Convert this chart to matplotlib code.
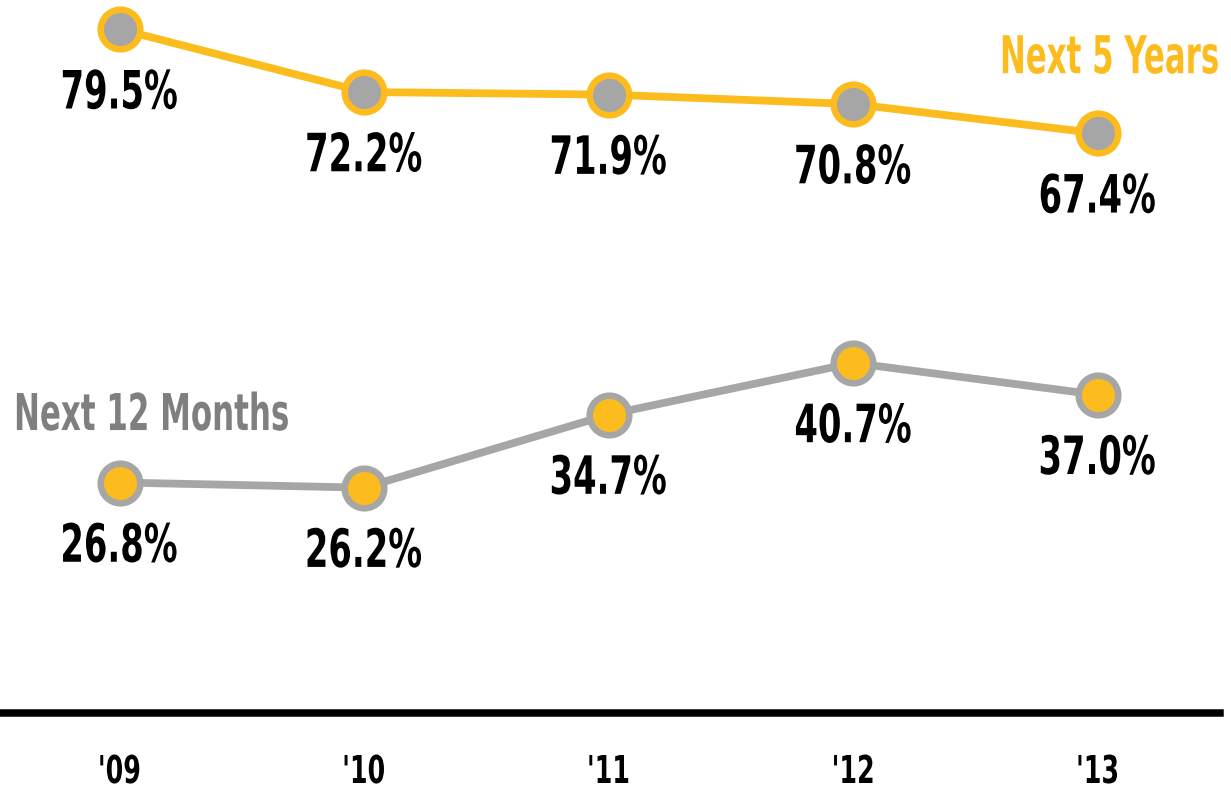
import matplotlib

matplotlib.use("Agg")

import matplotlib.pyplot as plt
from matplotlib.font_manager import FontProperties
from matplotlib.patches import PathPatch
from matplotlib.textpath import TextPath
from matplotlib.transforms import Affine2D, ScaledTranslation

YELLOW = "#FDBC1E"
GREY = "#A6A6A6"
GREY_TEXT = "#7F7F7F"
INK = "#000000"

years = ["'09", "'10", "'11", "'12", "'13"]
next_5_years = [79.5, 72.2, 71.9, 70.8, 67.4]
next_12_months = [26.8, 26.2, 34.7, 40.7, 37.0]

FONT = FontProperties(family="DejaVu Sans", weight="bold")
CAP = TextPath((0, 0), "H", size=100, prop=FONT).get_extents().height


def condensed_text(ax, x, y, s, cap_px, color, ha="center", dy_px=0.0,
                   squeeze=0.64, width_px=None):
    """Draw bold text squeezed horizontally, centred vertically on its caps."""
    path = TextPath((0, 0), s, size=100, prop=FONT)
    ext = path.get_extents()
    k = cap_px / CAP
    kx = width_px / ext.width if width_px else k * squeeze
    w = ext.width * kx
    if ha == "center":
        ox = -w / 2
    elif ha == "right":
        ox = -w
    else:
        ox = 0.0
    ox -= ext.x0 * kx
    tr = (Affine2D().scale(kx, k).translate(ox, dy_px - cap_px / 2)
          + ScaledTranslation(x, y, ax.transData))
    patch = PathPatch(path, transform=tr, facecolor=color, edgecolor="none",
                      clip_on=False, zorder=5)
    ax.add_artist(patch)


fig = plt.figure(figsize=(12.31, 7.87), dpi=100)
ax = fig.add_axes([0, 74 / 787, 1220 / 1231, 713 / 787])
ax.set_xlim(-0.49, 4.5)
ax.set_ylim(0, 82.9)

xs = list(range(len(years)))

ax.plot(xs, next_5_years, color=YELLOW, lw=5.6, marker="o", ms=28.5,
        mfc=GREY, mec=YELLOW, mew=4.7, zorder=3, clip_on=False)
ax.plot(xs, next_12_months, color=GREY, lw=5.6, marker="o", ms=28.5,
        mfc=YELLOW, mec=GREY, mew=4.7, zorder=3, clip_on=False)

# value labels under each point
for series in (next_5_years, next_12_months):
    for x, v in zip(xs, series):
        condensed_text(ax, x, v, f"{v:.1f}%", 38.5, INK, dy_px=-60)

# series names
condensed_text(ax, 4.491, 76.6, "Next 5 Years", 38, YELLOW, ha="right", width_px=215)
condensed_text(ax, -0.421, 35.05, "Next 12 Months", 37, GREY_TEXT, ha="left", width_px=271)

# year labels below the baseline
for x, yr in zip(xs, years):
    condensed_text(ax, x, 0, yr, 28, INK, dy_px=-56, squeeze=0.66)

ax.set_xticks([])
ax.set_yticks([])
for side in ("top", "left", "right"):
    ax.spines[side].set_visible(False)
ax.spines["bottom"].set_linewidth(5.4)
ax.spines["bottom"].set_color(INK)

fig.savefig("out.png", dpi=100, facecolor="white")
